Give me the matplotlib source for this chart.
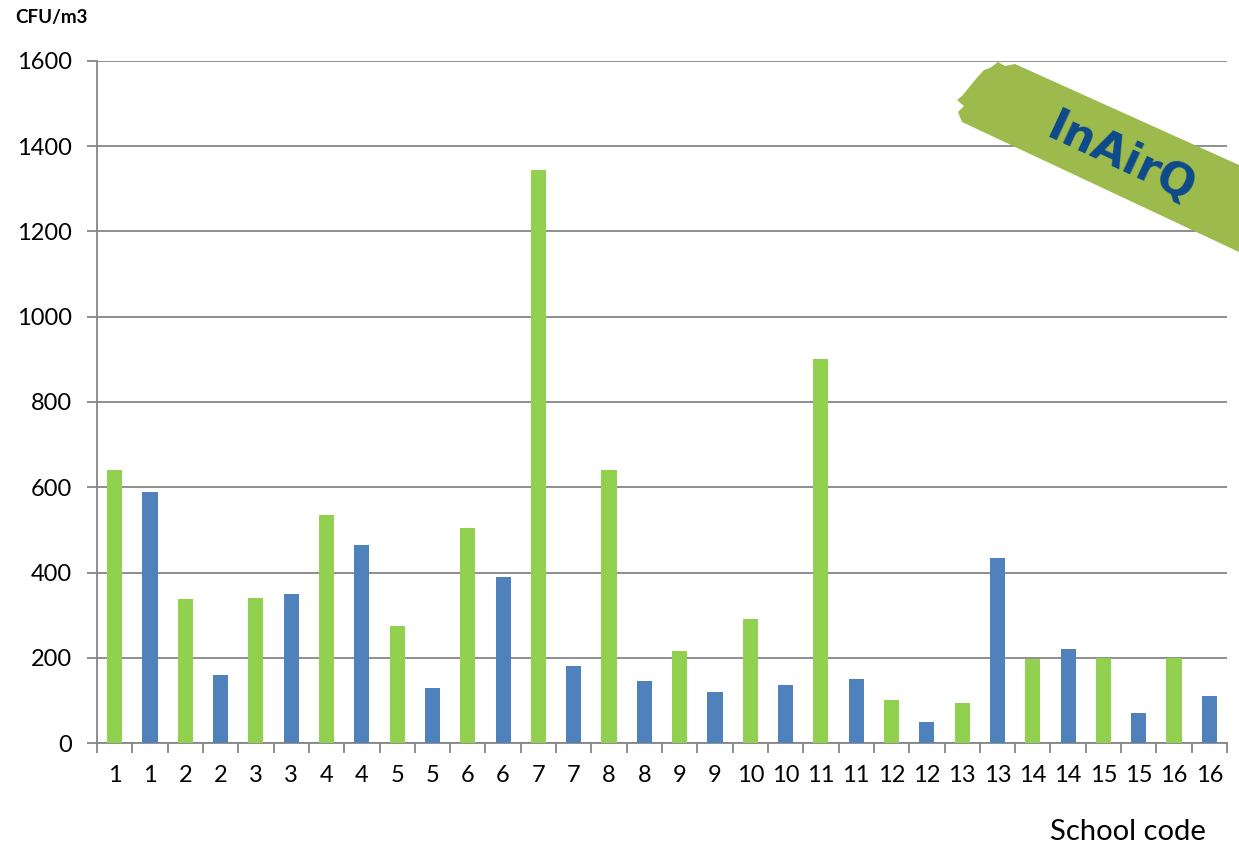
import matplotlib.pyplot as plt
from matplotlib.patches import Polygon
from matplotlib.ticker import MultipleLocator

# airborne bacteria per school, two samples each (green first, blue second)
schools = list(range(1, 17))
green_vals = [640, 337, 340, 535, 275, 505, 1345, 640, 215, 290, 900, 100, 95, 197, 200, 200]
blue_vals = [590, 160, 350, 465, 130, 390, 180, 145, 120, 135, 150, 50, 435, 220, 70, 110]

GREEN = "#92D050"
BLUE = "#4F81BD"
GRID = "#868686"

plt.rcParams["font.family"] = ["Lato", "DejaVu Sans"]

labels = []
values = []
colors = []
for s, g, b in zip(schools, green_vals, blue_vals):
    labels += [str(s), str(s)]
    values += [g, b]
    colors += [GREEN, BLUE]

W, H = 1239, 847
fig = plt.figure(figsize=(W / 100, H / 100), dpi=100)
ax = fig.add_axes([97 / W, 1 - 743 / H, (1227 - 97) / W, (743 - 61) / H])

pos = list(range(len(values)))
ax.bar(pos, values, width=0.43, color=colors, zorder=3)

ax.set_xlim(-0.5, len(values) - 0.5)
ax.set_ylim(0, 1600)
ax.yaxis.set_major_locator(MultipleLocator(200))
ax.grid(axis="y", color=GRID, linewidth=1.3, zorder=0)

ax.set_xticks(pos)
ax.set_xticklabels(labels)
ax.set_xticks([p - 0.5 for p in range(len(values) + 1)], minor=True)
ax.tick_params(axis="x", which="major", length=0, pad=16, labelsize=17)
ax.tick_params(axis="x", which="minor", length=7, width=1.3, color=GRID)
ax.tick_params(axis="y", length=7, width=1.3, color=GRID, pad=11, labelsize=17)

for side in ("top", "right"):
    ax.spines[side].set_visible(False)
for side in ("left", "bottom"):
    ax.spines[side].set_color(GRID)
    ax.spines[side].set_linewidth(1.3)

fig.text(15 / W, 1 - 17 / H, "CFU/m3", fontsize=13.5, fontweight="bold",
         ha="left", va="center")
fig.text(1128 / W, 1 - 832 / H, "School code", fontsize=21,
         ha="center", va="center")

# tilted logo banner in the top right corner
banner_px = [(962, 96), (975, 80), (984, 70), (990, 68), (998, 62), (1005, 66),
             (1015, 64), (1239, 165), (1239, 252), (962, 122), (958, 112),
             (964, 106), (957, 100)]
banner = Polygon([(x / W, 1 - y / H) for x, y in banner_px], closed=True,
                 transform=fig.transFigure, facecolor="#9DBB4C",
                 edgecolor="none", zorder=5)
fig.patches.append(banner)
fig.text(1122 / W, 1 - 158 / H, "InAirQ", fontsize=32, fontweight="bold",
         family="DejaVu Sans", color="#0D4A8C", rotation=-25,
         rotation_mode="anchor", ha="center", va="center", zorder=6)

fig.savefig("out.png", dpi=100)
